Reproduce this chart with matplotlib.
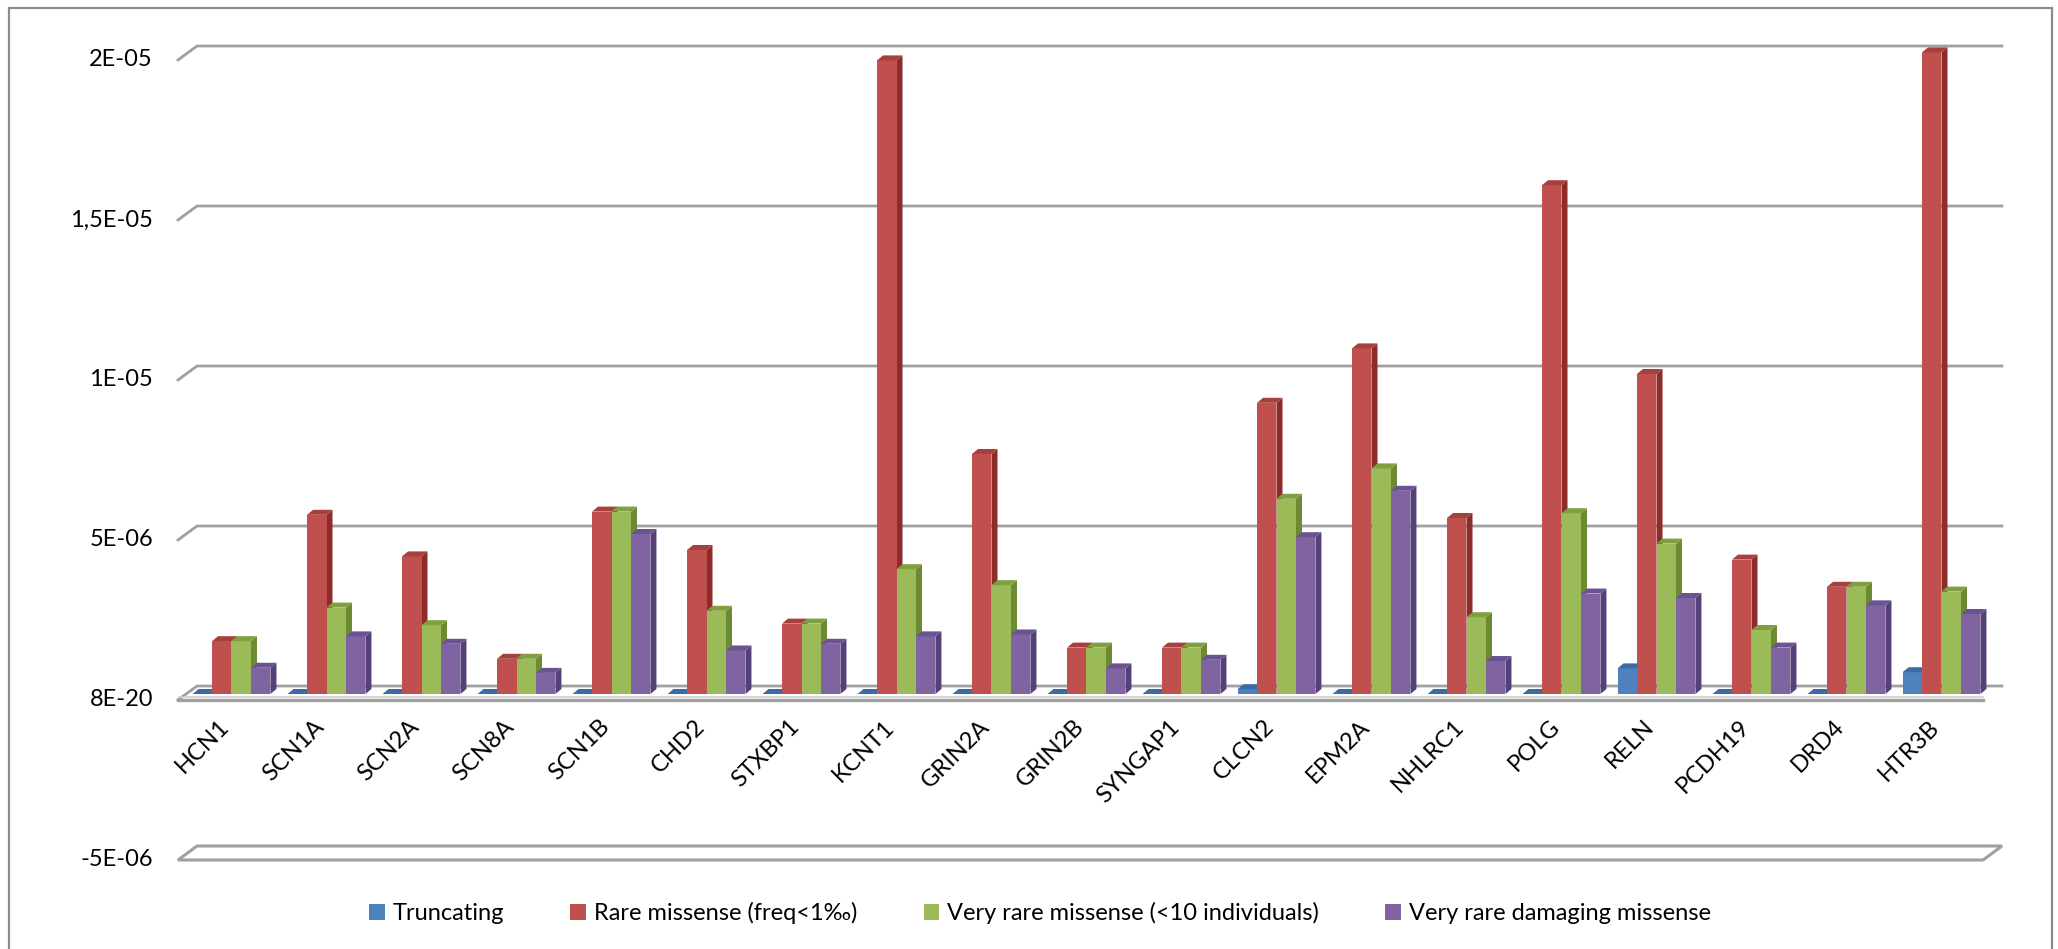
import numpy as np
import matplotlib.pyplot as plt
from matplotlib.patches import Polygon, Rectangle, Patch

plt.rcParams['font.family'] = ['Lato', 'DejaVu Sans']

# ---- data ----
genes = ['HCN1', 'SCN1A', 'SCN2A', 'SCN8A', 'SCN1B', 'CHD2', 'STXBP1', 'KCNT1',
         'GRIN2A', 'GRIN2B', 'SYNGAP1', 'CLCN2', 'EPM2A', 'NHLRC1', 'POLG',
         'RELN', 'PCDH19', 'DRD4', 'HTR3B']
truncating = np.array([0, 0, 0, 0, 0, 0, 0, 0, 0, 0, 0, 0.15, 0, 0, 0, 0.8, 0, 0, 0.68]) * 1e-6
rare = np.array([1.65, 5.6, 4.3, 1.1, 5.7, 4.5, 2.2, 19.8, 7.5, 1.45, 1.45, 9.1, 10.8,
                 5.5, 15.9, 10.0, 4.2, 3.35, 20.05]) * 1e-6
very_rare = np.array([1.65, 2.7, 2.15, 1.1, 5.7, 2.6, 2.2, 3.9, 3.4, 1.45, 1.45, 6.1, 7.05,
                      2.4, 5.65, 4.7, 2.0, 3.35, 3.2]) * 1e-6
damaging = np.array([0.82, 1.8, 1.57, 0.66, 5.0, 1.36, 1.57, 1.8, 1.86, 0.8, 1.07, 4.9, 6.35,
                     1.03, 3.14, 3.0, 1.45, 2.77, 2.5]) * 1e-6

series_names = ['Truncating', 'Rare missense (freq<1‰)',
                'Very rare missense (<10 individuals)', 'Very rare damaging missense']
series = [truncating, rare, very_rare, damaging]

y_ticks = [-5e-6, 0, 5e-6, 1e-5, 1.5e-5, 2e-5]
y_tick_labels = ['-5E-06', '8E-20', '5E-06', '1E-05', '1,5E-05', '2E-05']

# front / side / top colours for each series
face_cols = ['#4F81BD', '#C0504D', '#9BBB59', '#8064A2']
side_cols = ['#2E5B91', '#8E2C29', '#6B8A31', '#56407A']
top_cols = ['#3B6CA6', '#A6403C', '#809F40', '#6B5290']

# ---- geometry (pixels of the 2058x949 canvas) ----
W, H = 2058, 949
n = len(genes)
X0, X1 = 178, 1983          # front edge of the floor
Y0 = 700                    # pixel row of value 0 on the front plane
PPU = 32e6                  # pixels per value unit
cat_px = (X1 - X0) / n
DEPTH = (19, -14)           # wall depth offset in px
BAR_SHIFT = (6, -6)         # bars sit a little behind the front plane
BAR_DEPTH = (6, -5)
BAR_W = 0.205
FS = 17

fig = plt.figure(figsize=(W / 100, H / 100), dpi=100)
ax = fig.add_axes([0, 0, 1, 1])
ax.set_xlim(-0.5 - X0 / cat_px, -0.5 + (W - X0) / cat_px)
ax.set_ylim(-(H - Y0) / PPU, Y0 / PPU)
ax.axis('off')


def dx(px):
    return px / cat_px


def dy(px):
    return -px / PPU


def xpx(px):
    return -0.5 + (px - X0) / cat_px


def ypx(py):
    return (Y0 - py) / PPU


grid_col = '#a0a0a0'
xl, xr = -0.5, n - 0.5

# gridlines on back wall with a stub on the side wall
for v in [5e-6, 1e-5, 1.5e-5, 2e-5, 0]:
    ax.plot([xl, xl + dx(DEPTH[0]), xr + dx(DEPTH[0])],
            [v, v + dy(DEPTH[1]), v + dy(DEPTH[1])],
            color=grid_col, lw=2.0, solid_joinstyle='miter', zorder=1)
# floor slab at zero
ax.plot([xl, xr], [0, 0], color=grid_col, lw=2.4, zorder=1)
ax.plot([xl + dx(1), xr], [dy(-3), dy(-3)], color='#d0d0d0', lw=1.2, zorder=1)
# floor of the chart at the minimum
vmin = -5e-6
floor = [(xl, vmin), (xr, vmin), (xr + dx(DEPTH[0]), vmin + dy(DEPTH[1])),
         (xl + dx(DEPTH[0]), vmin + dy(DEPTH[1]))]
ax.add_patch(Polygon(floor, closed=True, fill=False, ec=grid_col, lw=2.2, zorder=1))

# bars
sx, sy = dx(BAR_SHIFT[0]), dy(BAR_SHIFT[1])
bx, by = dx(BAR_DEPTH[0]), dy(BAR_DEPTH[1])
for i in range(n):
    left0 = i - 2 * BAR_W
    for k, vals in enumerate(series):
        v = vals[i]
        l = left0 + k * BAR_W + sx
        r = l + BAR_W
        b = sy
        t = sy + v
        side = [(r, b), (r + bx, b + by), (r + bx, t + by), (r, t)]
        top = [(l, t), (r, t), (r + bx, t + by), (l + bx, t + by)]
        ax.add_patch(Polygon(side, closed=True, fc=side_cols[k], ec='none', zorder=3))
        ax.add_patch(Rectangle((l, b), BAR_W, v, fc=face_cols[k], ec='none', zorder=3))
        ax.add_patch(Polygon(top, closed=True, fc=top_cols[k], ec='none', zorder=3))

# y tick labels
for v, lab in zip(y_ticks, y_tick_labels):
    ax.text(xpx(153), v, lab, ha='right', va='center', fontsize=FS, color='black')

# x tick labels
for i, g in enumerate(genes):
    ax.text(i + dx(8), ypx(716), g, rotation=45, ha='right', va='top',
            fontsize=FS, color='black')

# outer chart border
ax.add_patch(Rectangle((9 / W, -0.05), (2052 - 9) / W, 1.05 - 8 / H,
                       transform=ax.transAxes, fill=False, ec='#8c8c8c', lw=1.6))

handles = [Patch(fc=c, ec='none') for c in face_cols]
fig.legend(handles, series_names, ncol=4, loc='center',
           bbox_to_anchor=(1040 / W, 1 - 913 / H), frameon=False, fontsize=FS,
           handlelength=0.65, handleheight=0.65, handletextpad=0.35,
           columnspacing=2.8)

fig.savefig('out.png', dpi=100)
